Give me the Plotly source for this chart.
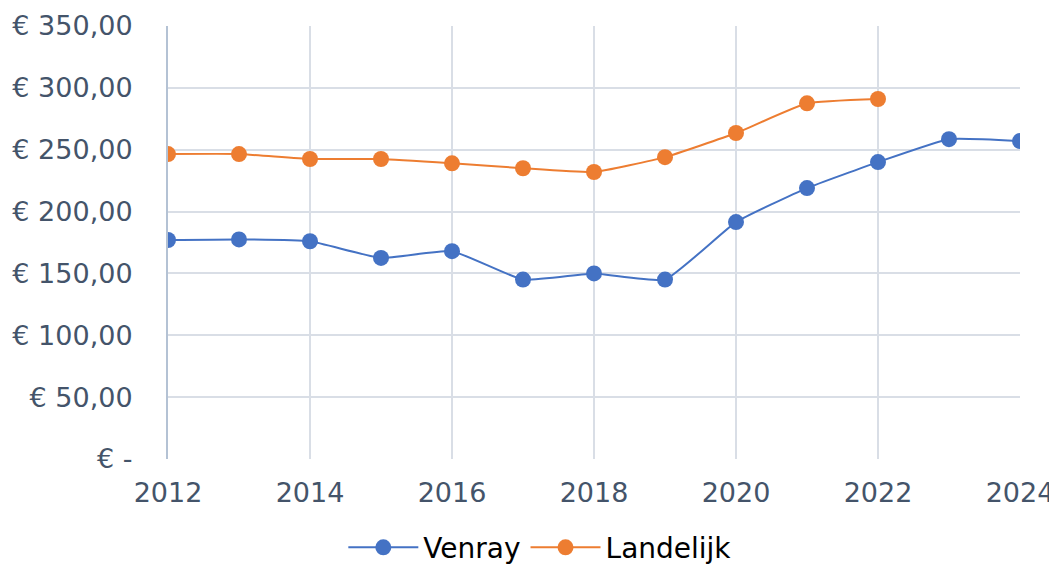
import plotly.graph_objects as go

years = list(range(2012, 2025))
venray = [177, 177.5, 176, 162.5, 168, 145, 150, 145, 191.5, 219, 240, 258.5, 257]
landelijk_years = list(range(2012, 2023))
landelijk = [246.5, 246.5, 242.5, 242.5, 239, 235, 232, 244, 263.5, 287.5, 291]

y_ticks = [0, 50, 100, 150, 200, 250, 300, 350]
y_labels = ["€ -", "€ 50,00", "€ 100,00", "€ 150,00", "€ 200,00", "€ 250,00", "€ 300,00", "€ 350,00"]
x_ticks = list(range(2012, 2025, 2))

fig = go.Figure()
fig.add_trace(go.Scatter(x=years, y=venray, name="Venray", mode="lines+markers",
                         line=dict(color="#4472C4", width=2, shape="spline", smoothing=0.4),
                         marker=dict(size=16, color="#4472C4")))
fig.add_trace(go.Scatter(x=landelijk_years, y=landelijk, name="Landelijk", mode="lines+markers",
                         line=dict(color="#ED7D31", width=2, shape="spline", smoothing=0.4),
                         marker=dict(size=16, color="#ED7D31")))

font_color = "#44546A"
fig.update_layout(
    width=1049, height=559,
    margin=dict(l=160, r=37, t=18, b=108, autoexpand=False),
    paper_bgcolor="white", plot_bgcolor="white",
    font=dict(family="DejaVu Sans", size=27, color=font_color),
    showlegend=True,
    legend=dict(orientation="h", x=0.437, xanchor="center", y=-0.147, yanchor="top",
                font=dict(color="black", size=28), itemwidth=70),
)
fig.update_xaxes(range=[2012, 2024], tickvals=x_ticks, showgrid=True, gridcolor="#D9DEE6", gridwidth=2,
                 zeroline=False, showline=False, ticks="", ticklabelstandoff=15, automargin=False)
fig.update_yaxes(range=[0, 350], tickvals=y_ticks, ticktext=y_labels, showgrid=True, gridcolor="#D9DEE6",
                 gridwidth=2, zeroline=False, showline=True, linecolor="#B4C2D4", linewidth=2,
                 ticks="", ticklabelstandoff=28, automargin=False)

fig.write_html("out.html")
